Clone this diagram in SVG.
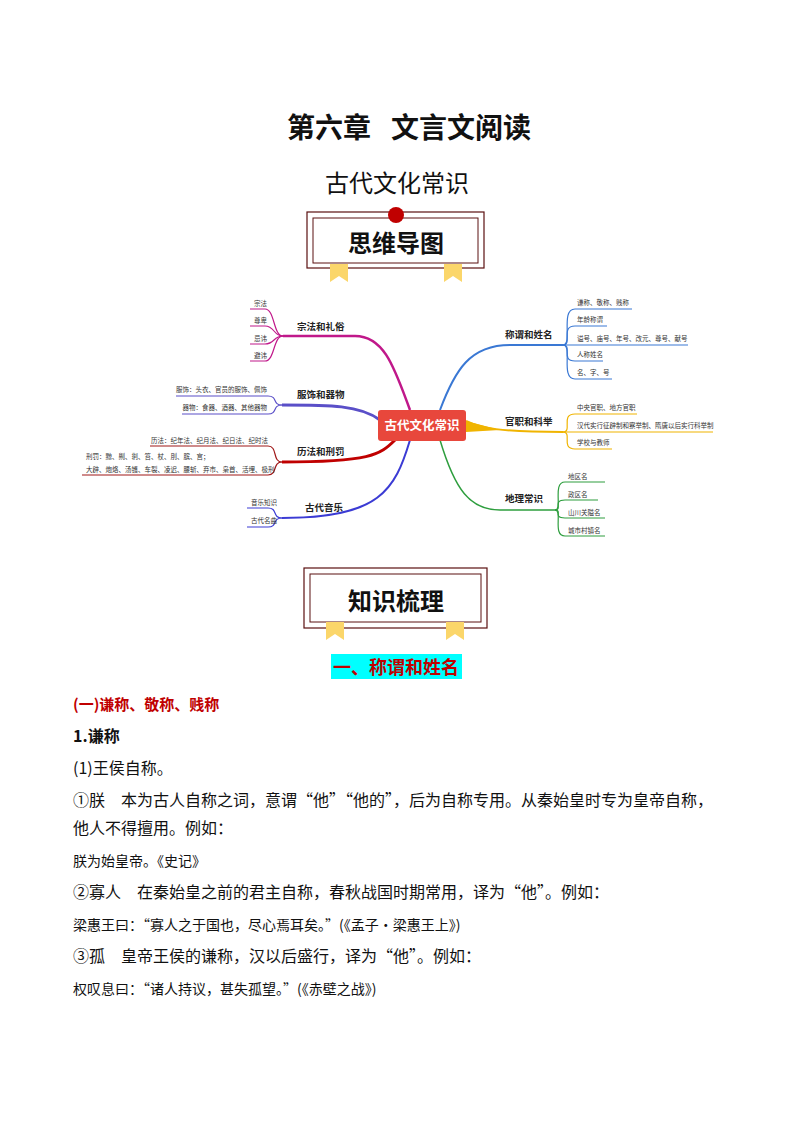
<svg xmlns="http://www.w3.org/2000/svg" width="794" height="1123" viewBox="0 0 794 1123">
<style>
text{font-family:"Noto Sans CJK SC","Liberation Sans",sans-serif;fill:#111}
.s{font-size:6.5px;fill:#333}
.l{font-size:9.5px;font-weight:bold;fill:#222}
.b{font-size:16px}
.k{font-size:14px}
.br{fill:none;stroke-width:1.2}
.rb{fill:#fbd66a}
</style>
<rect width="794" height="1123" fill="#fff"/>
<text x="287" y="138" style="font-size:28px;font-weight:bold">第六章</text>
<text x="391" y="138" style="font-size:28px;font-weight:bold">文言文阅读</text>
<text x="397" y="192" text-anchor="middle" style="font-size:24px">古代文化常识</text>
<g id="banner1">
<rect x="307" y="212" width="177" height="56" fill="#fff" stroke="#5a1010" stroke-width="1.2"/>
<rect x="313" y="218" width="165" height="45" fill="none" stroke="#5a1010" stroke-width="1"/>
<circle cx="396" cy="215" r="8" fill="#c00000"/>
<path class="rb" d="M330 264h18v18l-9-6-9 6z"/><path class="rb" d="M444 264h18v18l-9-6-9 6z"/>
<text x="396" y="252" text-anchor="middle" style="font-size:24px;font-weight:bold">思维导图</text>
</g>
<g id="connectors">
<path d="M410 410C395 370 385 336 355 336H283" stroke="#c0188a" fill="none" stroke-width="2.5"/>
<path d="M380 420C360 405 330 405 282 405" stroke="#5a4fc8" fill="none" stroke-width="3"/>
<path d="M395 440C380 455 370 462 282 462" stroke="#c00000" fill="none" stroke-width="3"/>
<path d="M410 440C395 490 380 518 282 518" stroke="#3b3bd4" fill="none" stroke-width="2"/>
<path d="M440 410C455 370 470 345 510 345H563" stroke="#3a78d4" fill="none" stroke-width="2"/>
<path d="M466 421C480 428 500 432 563 432" stroke="#f0b400" fill="none" stroke-width="2"/>
<path d="M466 421L500 430L466 432z" fill="#f0b400"/>
<path d="M440 440C455 490 470 510 500 510H555" stroke="#2e9e3e" fill="none" stroke-width="1.5"/>
<g stroke="#c0188a" class="br">
<path d="M283 336C273 336 275 309 265 309H250"/><path d="M283 336C273 336 275 326 265 326H250"/><path d="M283 336C273 336 275 344 265 344H250"/><path d="M283 336C273 336 275 361 265 361H250"/>
</g>
<g stroke="#5a4fc8" class="br">
<path d="M282 405C272 405 278 396 268 396H176"/><path d="M282 405C272 405 278 414 268 414H182"/>
</g>
<g stroke="#a01818" class="br">
<path d="M282 462C272 462 278 446 268 446H150"/><path d="M282 462C272 462 278 475 268 475H82"/>
</g>
<g stroke="#3b3bd4" class="br">
<path d="M282 518C272 518 278 508 268 508H247"/><path d="M282 518C272 518 278 527 268 527H247"/>
</g>
<g stroke="#3a78d4" class="br">
<path d="M563 345C573 345 560 309 575 309H632"/><path d="M563 345C573 345 560 326 575 326H607"/><path d="M563 345H688"/><path d="M563 345C573 345 560 361 575 361H603"/><path d="M563 345C573 345 560 379 575 379H612"/>
</g>
<g stroke="#f0b400" class="br">
<path d="M563 432C573 432 560 414 575 414H637"/><path d="M563 432H713"/><path d="M563 432C573 432 560 449 575 449H612"/>
</g>
<g stroke="#2e9e3e" class="br">
<path d="M555 510C563 510 552 482 565 482H605"/><path d="M555 510C563 510 552 500 565 500H598"/><path d="M555 510C563 510 552 518 565 518H605"/><path d="M555 510C563 510 552 536 565 536H605"/>
</g>
</g>
<g id="center">
<rect x="378" y="410" width="88" height="31" rx="3" fill="#e8473c"/>
<text x="422" y="430" text-anchor="middle" style="font-size:12.5px;font-weight:bold;fill:#fff">古代文化常识</text>
</g>
<g id="left">
<text x="297" y="330" class="l">宗法和礼俗</text>
<text x="254" y="306" class="s">宗法</text><text x="254" y="323" class="s">尊卑</text><text x="254" y="341" class="s">忌讳</text><text x="254" y="358" class="s">避讳</text>
<text x="297" y="398" class="l">服饰和器物</text>
<text x="267" y="392" class="s" text-anchor="end">服饰：头衣、官员的服饰、佩饰</text>
<text x="267" y="410" class="s" text-anchor="end">器物：食器、酒器、其他器物</text>
<text x="297" y="455" class="l">历法和刑罚</text>
<text x="268" y="443" class="s" text-anchor="end">历法：纪年法、纪月法、纪日法、纪时法</text>
<text x="86" y="459" class="s">刑罚：黥、劓、剕、笞、杖、刖、膑、宫；</text>
<text x="86" y="472" class="s">大辟、炮烙、汤镬、车裂、凌迟、腰斩、弃市、枭首、活埋、极刑</text>
<text x="305" y="511" class="l">古代音乐</text>
<text x="251" y="505" class="s">音乐知识</text><text x="251" y="523" class="s">古代名曲</text>
</g>
<g id="right">
<text x="505" y="338" class="l">称谓和姓名</text>
<text x="577" y="305" class="s">谦称、敬称、贱称</text><text x="577" y="322" class="s">年龄称谓</text><text x="577" y="341" class="s">谥号、庙号、年号、改元、尊号、献号</text><text x="577" y="357" class="s">人称姓名</text><text x="577" y="375" class="s">名、字、号</text>
<text x="505" y="425" class="l">官职和科举</text>
<text x="577" y="410" class="s">中央官职、地方官职</text><text x="577" y="428" class="s">汉代实行征辟制和察举制、隋唐以后实行科举制</text><text x="577" y="445" class="s">学校与教师</text>
<text x="505" y="502" class="l">地理常识</text>
<text x="568" y="479" class="s">地区名</text><text x="568" y="497" class="s">政区名</text><text x="568" y="515" class="s">山川关隘名</text><text x="568" y="533" class="s">城市村镇名</text>
</g>
<g id="banner2">
<rect x="304" y="568" width="183" height="60" fill="#fff" stroke="#5a1010" stroke-width="1.2"/>
<rect x="310" y="574" width="171" height="48" fill="none" stroke="#5a1010" stroke-width="1"/>
<path class="rb" d="M326 622h18v18l-9-6-9 6z"/><path class="rb" d="M446 622h18v18l-9-6-9 6z"/>
<text x="396" y="610" text-anchor="middle" style="font-size:24px;font-weight:bold">知识梳理</text>
</g>
<rect x="331" y="654" width="131" height="25" fill="#00ffff"/>
<text x="396" y="674" text-anchor="middle" style="font-size:18px;font-weight:bold;fill:#c00000">一、称谓和姓名</text>
<text x="73" y="710" style="font-size:15px;font-weight:bold;fill:#c00000">(一)谦称、敬称、贱称</text>
<text x="73" y="742" style="font-size:16px;font-weight:bold">1.谦称</text>
<text x="73" y="774" class="b">(1)王侯自称。</text>
<text x="73" y="806" class="b">①朕　本为古人自称之词，意谓“他”“他的”，后为自称专用。从秦始皇时专为皇帝自称，</text>
<text x="73" y="834" class="b">他人不得擅用。例如：</text>
<text x="73" y="866" class="k">朕为始皇帝。《史记》</text>
<text x="73" y="898" class="b">②寡人　在秦始皇之前的君主自称，春秋战国时期常用，译为“他”。例如：</text>
<text x="73" y="930" class="k">梁惠王曰：“寡人之于国也，尽心焉耳矣。”(《孟子·梁惠王上》)</text>
<text x="73" y="962" class="b">③孤　皇帝王侯的谦称，汉以后盛行，译为“他”。例如：</text>
<text x="73" y="994" class="k">权叹息曰：“诸人持议，甚失孤望。”(《赤壁之战》)</text>
</svg>
